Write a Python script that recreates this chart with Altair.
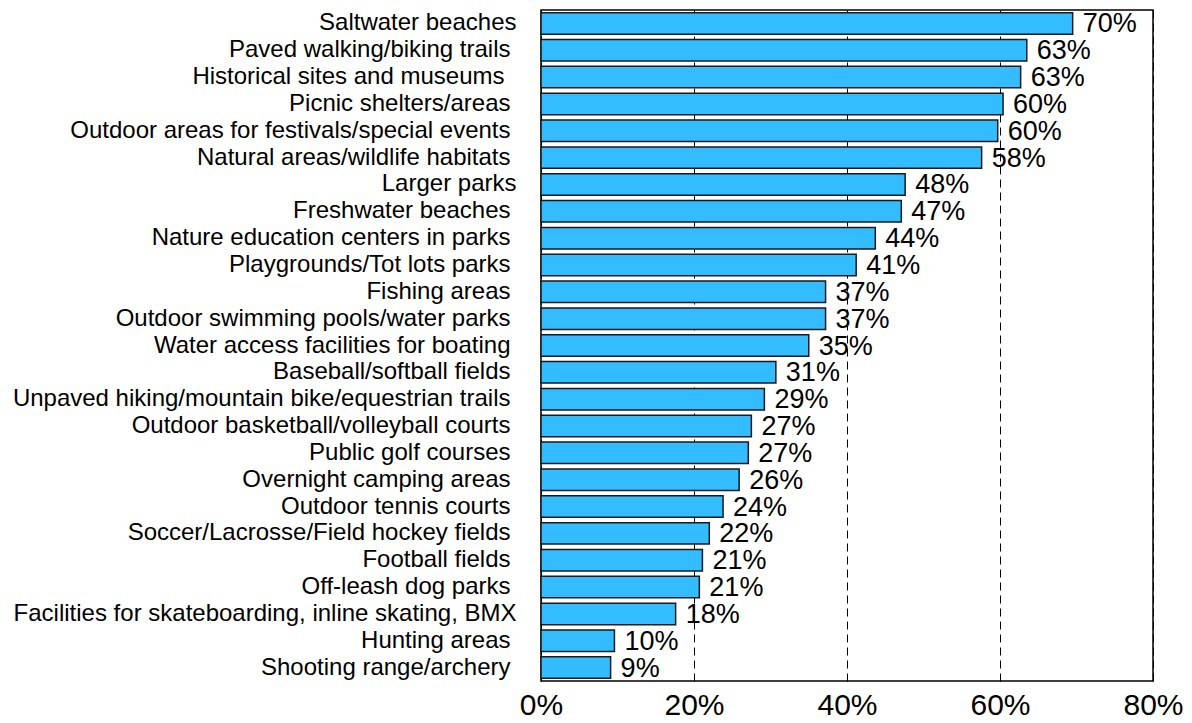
import altair as alt
import pandas as pd

categories = [
    "Saltwater beaches",
    "Paved walking/biking trails ",
    "Historical sites and museums  ",
    "Picnic shelters/areas ",
    "Outdoor areas for festivals/special events ",
    "Natural areas/wildlife habitats ",
    "Larger parks",
    "Freshwater beaches ",
    "Nature education centers in parks ",
    "Playgrounds/Tot lots parks ",
    "Fishing areas ",
    "Outdoor swimming pools/water parks ",
    "Water access facilities for boating ",
    "Baseball/softball fields ",
    "Unpaved hiking/mountain bike/equestrian trails ",
    "Outdoor basketball/volleyball courts ",
    "Public golf courses ",
    "Overnight camping areas ",
    "Outdoor tennis courts ",
    "Soccer/Lacrosse/Field hockey fields ",
    "Football fields ",
    "Off-leash dog parks ",
    "Facilities for skateboarding, inline skating, BMX",
    "Hunting areas ",
    "Shooting range/archery ",
]

values = [69.5, 63.5, 62.7, 60.4, 59.7, 57.6, 47.6, 47.1, 43.7, 41.2,
          37.2, 37.2, 35.0, 30.7, 29.2, 27.5, 27.1, 25.9, 23.8, 22.0,
          21.1, 20.7, 17.6, 9.6, 9.1]

shown = [70, 63, 63, 60, 60, 58, 48, 47, 44, 41,
         37, 37, 35, 31, 29, 27, 27, 26, 24, 22,
         21, 21, 18, 10, 9]

x_ticks = [0, 20, 40, 60, 80]

df = pd.DataFrame({
    "category": categories,
    "value": values,
    "label": [f"{s}%" for s in shown],
})

FONT = "Liberation Sans"

# trailing spaces in the category names push the label left a little
label_padding = {
    "condition": [
        {"test": "slice(datum.value, -2) == '  '", "value": 37},
        {"test": "slice(datum.value, -1) == ' '", "value": 31},
    ],
    "value": 25,
}

y_enc = alt.Y(
    "category:N",
    sort=categories,
    scale=alt.Scale(paddingInner=0.2, paddingOuter=0.1),
    axis=alt.Axis(
        title=None,
        ticks=False,
        domain=False,
        grid=False,
        labelFont=FONT,
        labelFontSize=24,
        labelColor="black",
        labelPadding=label_padding,
        labelLimit=800,
    ),
)

x_enc = alt.X(
    "value:Q",
    scale=alt.Scale(domain=[0, 80], nice=False, zero=True),
    axis=alt.Axis(
        title=None,
        values=x_ticks,
        labelExpr="datum.value + '%'",
        grid=True,
        gridColor="black",
        gridDash=[8, 5],
        gridWidth=1,
        gridOpacity=1,
        ticks=False,
        domain=False,
        labelFont=FONT,
        labelFontSize=30,
        labelColor="black",
        labelPadding=9,
        labelFlush=False,
    ),
)

bars = alt.Chart(df).mark_bar(
    color="#33bcff",
    stroke="#1a1a1a",
    strokeWidth=1.5,
).encode(y=y_enc, x=x_enc)

text = alt.Chart(df).mark_text(
    align="left",
    baseline="middle",
    dx=10,
    dy=1,
    font=FONT,
    fontSize=27,
    color="black",
).encode(y=alt.Y("category:N", sort=categories), x="value:Q", text="label:N")

chart = alt.layer(bars, text).properties(
    width=612,
    height=671,
    padding={"left": 541, "top": 10, "right": 39, "bottom": 42},
    autosize=alt.AutoSizeParams(type="none"),
    background="white",
).configure_view(stroke="black", strokeWidth=1.5)

chart.save("out.html", embed_options={"renderer": "svg", "actions": False})
